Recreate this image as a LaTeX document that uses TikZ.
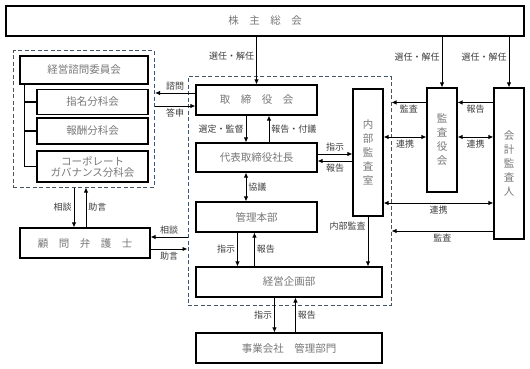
\documentclass[tikz,border=0pt]{standalone}
\usepackage{fontspec}
\usepackage{tikz}
\usetikzlibrary{arrows.meta, positioning, fit, backgrounds}
\newfontfamily\jpfont{Noto Sans CJK JP}
\definecolor{boxtext}{RGB}{120,120,120}
\definecolor{labeltext}{RGB}{60,60,60}
\definecolor{dashblue}{RGB}{68,84,106}

\begin{document}
\begin{tikzpicture}[
  x=1pt, y=-1pt,
  box/.style={rectangle, draw=black, line width=1.1pt, fill=white, text=boxtext,
              text centered, inner sep=1pt, font=\jpfont\fontsize{10.5}{14}\selectfont},
  vbox/.style={box, minimum width=30pt, align=center},
  arrow/.style={-{Latex[length=5pt,width=4.5pt]}, line width=0.9pt},
  biarrow/.style={{Latex[length=5pt,width=4.5pt]}-{Latex[length=5pt,width=4.5pt]}, line width=0.9pt},
  label/.style={font=\jpfont\fontsize{9}{10}\selectfont, text=labeltext, inner sep=2pt},
  group/.style={draw=dashblue, line width=0.9pt, dash pattern=on 4pt off 2.5pt}
]
\useasboundingbox (0,0) rectangle (530,369);

% --- Shareholders ---
\node[box, minimum width=518pt, minimum height=30pt] (agm) at (265,21) {株　主　総　会};

% --- Advisory committee ---
\node[box, minimum width=128pt, minimum height=28pt] (advisory) at (84,70) {経営諮問委員会};
\node[box, minimum width=111pt, minimum height=25pt] (nomination) at (92.5,102) {指名分科会};
\node[box, minimum width=111pt, minimum height=26pt] (remuneration) at (92.5,131) {報酬分科会};
\node[box, minimum width=111pt, minimum height=31pt, align=center] (governance) at (92.5,166.5) {コーポレート\\[-3pt]ガバナンス分科会};
\node[box, minimum width=130pt, minimum height=30pt] (lawyer) at (85,243) {顧　問　弁　護　士};

% --- Executive side ---
\node[box, minimum width=121pt, minimum height=30pt] (board) at (256.5,100) {取　締　役　会};
\node[box, minimum width=121pt, minimum height=29pt] (ceo) at (256.5,157.5) {代表取締役社長};
\node[box, minimum width=121pt, minimum height=30pt] (admin) at (256.5,217) {管理本部};
\node[box, minimum width=186pt, minimum height=30pt] (planning) at (289,282) {経営企画部};
\node[box, minimum width=186pt, minimum height=30pt] (subsid) at (289,348) {事業会社　管理部門};

% --- Audit side ---
\node[vbox, minimum height=127pt] (audit_office) at (368,152.5) {内\\部\\監\\査\\室};
\node[vbox, minimum height=104pt] (auditors) at (442,140) {監\\査\\役\\会};
\node[vbox, minimum height=151pt] (accountant) at (509,163.5) {会\\計\\監\\査\\人};

% --- Background Grouping ---
\begin{scope}[on background layer]
  \node[group, fit=(advisory)(governance), inner xsep=6pt, inner ysep=4.5pt] (advgroup) {};
  \node[group, fit=(board)(planning)(audit_office), inner xsep=7.5pt, inner ysep=8pt] (execgroup) {};
\end{scope}

% --- Committee tree ---
\coordinate (spine) at ([xshift=5pt]advisory.south west);
\draw[line width=1.1pt] (spine) |- (governance.west);
\draw[line width=1.1pt] (spine |- nomination.west) -- (nomination.west);
\draw[line width=1.1pt] (spine |- remuneration.west) -- (remuneration.west);

% --- Arrows ---
\draw[arrow] (agm.south -| board.north) -- (board.north)
  node[label, pos=0.4, left] {選任・解任};
\draw[arrow] (agm.south -| auditors.north) -- (auditors.north)
  node[label, pos=0.4, left] {選任・解任};
\draw[arrow] (agm.south -| accountant.north) -- (accountant.north)
  node[label, pos=0.4, left] {選任・解任};

\draw[arrow] ([yshift=7pt]board.west) -- ([yshift=7pt]board.west -| advgroup.east)
  node[label, midway, above] {諮問};
\draw[arrow] ([yshift=-6pt]board.west -| advgroup.east) -- ([yshift=-6pt]board.west)
  node[label, midway, below] {答申};

\draw[arrow] ([xshift=-10.5pt]board.south) -- ([xshift=-10.5pt]ceo.north)
  node[label, midway, left] {選定・監督};
\draw[arrow] ([xshift=12.5pt]ceo.north) -- ([xshift=12.5pt]board.south)
  node[label, midway, right] {報告・付議};

\draw[arrow] ([yshift=3.5pt]ceo.east) -- ([yshift=3.5pt]ceo.east -| audit_office.west)
  node[label, midway, above] {指示};
\draw[arrow] ([yshift=-3.5pt]ceo.east -| audit_office.west) -- ([yshift=-3.5pt]ceo.east)
  node[label, midway, below] {報告};

\draw[biarrow] ([xshift=-10.5pt]ceo.south) -- ([xshift=-10.5pt]admin.north)
  node[label, midway, right] {協議};

\draw[arrow] ([xshift=42pt]admin.south west) -- ([xshift=42pt]admin.south west |- planning.north)
  node[label, midway, left] {指示};
\draw[arrow] ([xshift=59pt]admin.south west |- planning.north) -- ([xshift=59pt]admin.south west)
  node[label, midway, right] {報告};

\draw[arrow] (audit_office.south) -- (audit_office.south |- planning.north)
  node[label, pos=0.2, left] {内部監査};

\draw[arrow] ([xshift=79pt]planning.south west) -- ([xshift=79pt]planning.south west |- subsid.north)
  node[label, midway, left] {指示};
\draw[arrow] ([xshift=100pt]planning.south west |- subsid.north) -- ([xshift=100pt]planning.south west)
  node[label, midway, right] {報告};

\draw[arrow] ([yshift=-15pt]auditors.north west) -- ([yshift=-15pt]auditors.north west -| execgroup.east)
  node[label, midway, below] {監査};
\draw[biarrow] (audit_office.east |- 0,137) -- (auditors.west |- 0,137)
  node[label, midway, below] {連携};
\draw[arrow] ([yshift=-15pt]accountant.north west) -- ([yshift=-15pt]accountant.north west -| auditors.east)
  node[label, midway, below] {報告};
\draw[biarrow] (auditors.east |- 0,137) -- (accountant.west |- 0,137)
  node[label, midway, below] {連携};
\draw[biarrow] (audit_office.east |- 0,203) -- (accountant.west |- 0,203)
  node[label, midway, below] {連携};
\draw[arrow] (accountant.west |- 0,231) -- (execgroup.east |- 0,231)
  node[label, midway, below] {監査};

\draw[arrow] ([xshift=-11pt]lawyer.north |- advgroup.south) -- ([xshift=-11pt]lawyer.north)
  node[label, midway, left] {相談};
\draw[arrow] ([xshift=1pt]lawyer.north) -- ([xshift=1pt]lawyer.north |- advgroup.south)
  node[label, midway, right] {助言};

\draw[arrow] ([yshift=6pt]lawyer.east -| execgroup.west) -- ([yshift=6pt]lawyer.east)
  node[label, midway, above] {相談};
\draw[arrow] ([yshift=-6pt]lawyer.east) -- ([yshift=-6pt]lawyer.east -| execgroup.west)
  node[label, midway, below] {助言};

\end{tikzpicture}
\end{document}
